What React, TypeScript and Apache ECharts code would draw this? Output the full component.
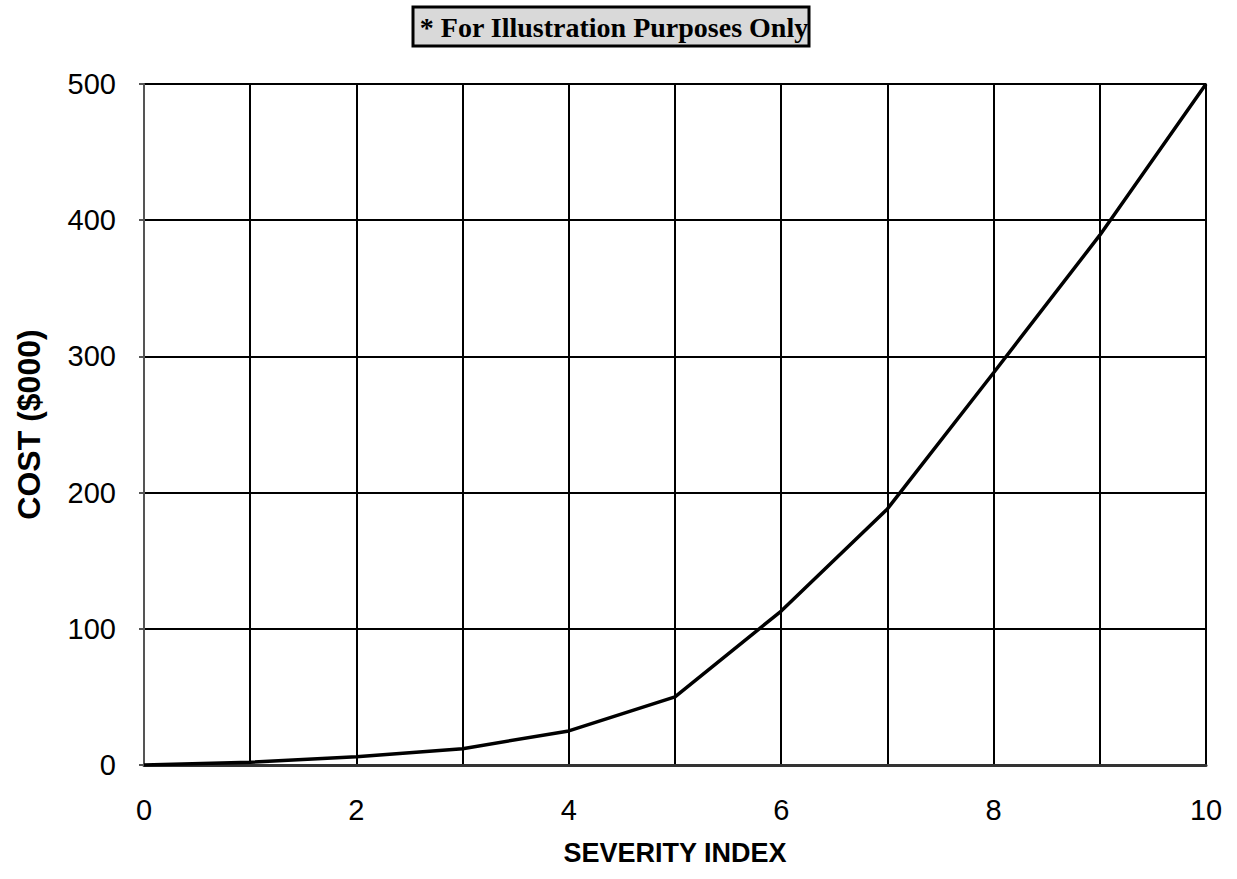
import React, { useEffect, useRef } from "react";
import * as echarts from "echarts";

const severity = [0, 1, 2, 3, 4, 5, 6, 7, 8, 9, 10];
const cost = [0, 2, 6, 12, 25, 50, 113, 188, 288, 389, 500];
const noteText = "* For Illustration Purposes Only";
const xTitle = "SEVERITY INDEX";
const yTitle = "COST ($000)";

export default function App() {
  const ref = useRef<HTMLDivElement>(null);
  useEffect(() => {
    document.body.style.margin = "0";
    const chart = echarts.init(ref.current!, null, { renderer: "svg" });
    const sans = "'Liberation Sans', Arial, sans-serif";
    chart.setOption({
      animation: false,
      backgroundColor: "#ffffff",
      grid: { left: 144, top: 84, right: 31, bottom: 114, show: true, borderColor: "#808080", borderWidth: 2 },
      xAxis: {
        type: "value",
        min: 0,
        max: 10,
        interval: 1,
        name: xTitle,
        nameLocation: "middle",
        nameGap: 74,
        nameTextStyle: { fontFamily: sans, fontWeight: "bold", fontSize: 27, color: "#000" },
        axisLine: { show: true, lineStyle: { color: "#333", width: 3 } },
        axisTick: { show: false },
        axisLabel: {
          fontFamily: sans,
          fontSize: 29,
          color: "#000",
          margin: 30,
          formatter: (v: number) => (v % 2 === 0 ? String(v) : ""),
        },
        splitLine: { show: true, lineStyle: { color: "#000", width: 2 } },
      },
      yAxis: {
        type: "value",
        min: 0,
        max: 500,
        interval: 100,
        name: yTitle,
        nameLocation: "middle",
        nameGap: 99,
        nameTextStyle: { fontFamily: sans, fontWeight: "bold", fontSize: 32, color: "#000" },
        axisLine: { show: true, lineStyle: { color: "#555", width: 2 } },
        axisTick: { show: true, length: 5, lineStyle: { color: "#555", width: 2 } },
        axisLabel: { fontFamily: sans, fontSize: 29, color: "#000", margin: 28 },
        splitLine: { show: true, lineStyle: { color: "#000", width: 2 } },
      },
      series: [
        {
          type: "line",
          data: severity.map((s, i) => [s, cost[i]]),
          showSymbol: false,
          lineStyle: { color: "#000", width: 3.5 },
          z: 5,
        },
      ],
      graphic: [
        {
          type: "rect",
          shape: { x: 413, y: 7, width: 396, height: 39 },
          style: { fill: "#d9d9d9", stroke: "#000", lineWidth: 3 },
        },
        {
          type: "text",
          x: 614,
          y: 27,
          style: {
            text: noteText,
            fill: "#000",
            font: "bold 28px 'Liberation Serif', serif",
            textAlign: "center",
            textVerticalAlign: "middle",
          },
        },
      ],
    });
    return () => chart.dispose();
  }, []);
  return <div ref={ref} style={{ width: 1237, height: 879 }} />;
}
